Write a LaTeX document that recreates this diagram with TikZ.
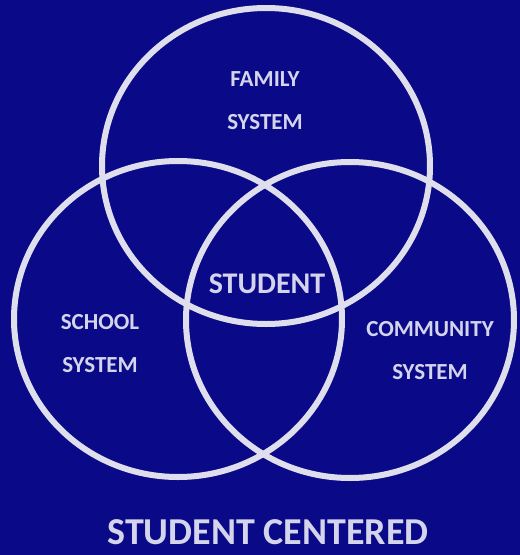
\documentclass[tikz,border=0pt]{standalone}
\usepackage{fontspec}
\setmainfont{Carlito}
\definecolor{bgblue}{RGB}{10,10,136}
\definecolor{ringgray}{RGB}{222,222,236}
\definecolor{textgray}{RGB}{212,212,236}
\begin{document}
\begin{tikzpicture}[x=1pt, y=-1pt,
		ring/.style={draw=ringgray, line width=6pt},
		label/.style={text=textgray, align=center, font=\bfseries\fontsize{23}{43}\selectfont, inner sep=0pt}]
		\fill[bgblue] (0, 0) rectangle (520, 555);
		\useasboundingbox (0, 0) rectangle (520, 555);
		
		\draw[ring] (266, 166) ellipse [x radius=164, y radius=158];
		\draw[ring] (178, 319) ellipse [x radius=164, y radius=158];
		\draw[ring] (350, 320) ellipse [x radius=164, y radius=158];
		
		\node[label] (family) at (265, 100.5) {FAMILY\\SYSTEM};
		\node[label] (school) at (100, 343.5) {SCHOOL\\SYSTEM};
		\node[label] (community) at (430, 351) {COMMUNITY\\SYSTEM};
		\node[label, font=\bfseries\fontsize{30}{36}\selectfont] (student) at (267, 284) {STUDENT};
		
		\node[label, font=\bfseries\fontsize{38}{46}\selectfont] (title) at (268, 532) {STUDENT CENTERED};
	\end{tikzpicture}
\end{document}
